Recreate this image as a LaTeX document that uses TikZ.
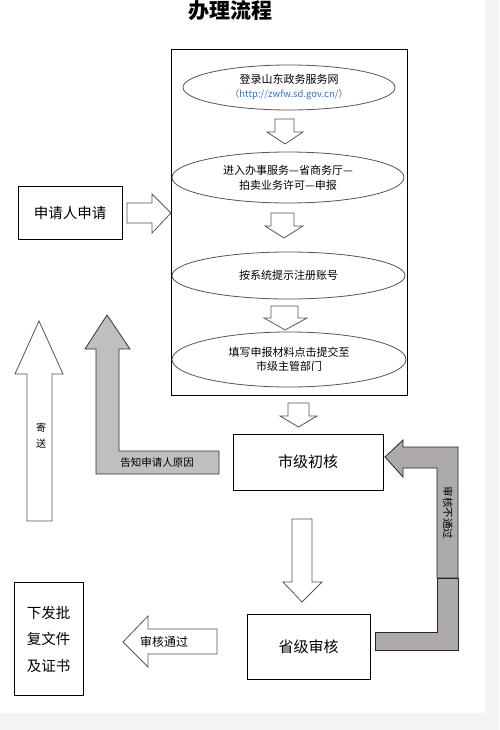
\documentclass[tikz,border=0pt]{standalone}
\usepackage{fontspec}
\setmainfont{Noto Sans CJK SC}
\usetikzlibrary{shapes.geometric}
\definecolor{bggray}{HTML}{F2F3F5}
\definecolor{grayA}{HTML}{BFBFBF}
\definecolor{grayB}{HTML}{AEAAAA}
\definecolor{linegray}{HTML}{555555}
\definecolor{urlblue}{HTML}{3A6FC4}
\newcommand{\fs}[1]{\fontsize{#1}{#1}\selectfont}
\tikzset{
  boxnode/.style={draw=black, line width=0.8pt, inner sep=0pt, fill=white},
  ellnode/.style={ellipse, draw=linegray, line width=0.8pt, inner sep=0pt, fill=white, align=center, font=\fs{11}},
  whitearrow/.style={draw=linegray, line width=0.8pt, fill=white, line join=miter},
  grayarrowA/.style={draw=black!80, line width=0.8pt, fill=grayA},
  grayarrowB/.style={draw=black!85, line width=0.8pt, fill=grayB},
}
\begin{document}
\begin{tikzpicture}[x=1pt,y=-1pt]
\useasboundingbox (0,0) rectangle (499,730);
\fill[bggray] (0,0) rectangle (499,730);
\fill[white] (0,0) rectangle (485,713);

% title
\node[font=\bfseries\fs{21}] (title) at (230,11) {办理流程};

% big frame
\node[boxnode, fill=none, minimum width=236pt, minimum height=346pt] (frame) at (289,222) {};

% ellipses
\node[ellnode, minimum width=212pt, minimum height=45pt] (e1) at (289,87.5)
  {登录山东政务服务网\\[3pt]{\fs{9.5}\color{urlblue}（http://zwfw.sd.gov.cn/）}};
\node[ellnode, minimum width=232pt, minimum height=51pt] (e2) at (288,177.5)
  {进入办事服务—省商务厅—\\[4pt]拍卖业务许可—申报};
\node[ellnode, minimum width=233pt, minimum height=47pt] (e3) at (288.5,275.5)
  {按系统提示注册账号};
\node[ellnode, minimum width=234pt, minimum height=55pt] (e4) at (289,359.5)
  {填写申报材料点击提交至\\[3pt]市级主管部门};

% boxes
\node[boxnode, minimum width=104pt, minimum height=53pt, font=\fs{14.5}] (apply) at (70,212.5) {申请人申请};
\node[boxnode, minimum width=150pt, minimum height=56pt, font=\fs{15}] (city) at (308,462) {市级初核};
\node[boxnode, minimum width=123pt, minimum height=65pt, font=\fs{15}] (prov) at (308.5,646.5) {省级审核};
\node[boxnode, minimum width=69pt, minimum height=113pt, font=\fs{14.5}, align=center] (issue) at (48.5,639)
  {下发批\\[12pt]复文件\\[12pt]及证书};

% small down arrows inside frame
\draw[whitearrow] (275,119)--(294,119)--(294,132)--(303,132)--(285,144)--(267,132)--(275,132)--cycle;
\draw[whitearrow] (271,213)--(294,213)--(294,226)--(303,226)--(284,238)--(265,226)--(271,226)--cycle;
\draw[whitearrow] (271,306)--(298,306)--(298,318)--(307,318)--(285,330)--(264,318)--(271,318)--cycle;

% apply -> frame
\draw[whitearrow] (127,203)--(152,203)--(152,194)--(171,213)--(152,233)--(152,223)--(127,223)--cycle;

% frame -> city
\draw[whitearrow] (288,403)--(309,403)--(309,416)--(317,416)--(298.5,427)--(280,416)--(288,416)--cycle;

% city -> prov
\draw[whitearrow] (292,519)--(312,519)--(312,582)--(322,582)--(302,602)--(283,582)--(292,582)--cycle;

% prov -> issue (审核通过)
\draw[whitearrow] (217,629)--(217,654)--(148,654)--(148,667)--(123,642)--(148,616)--(148,629)--cycle;
\node[font=\fs{12}] (passlbl) at (164,642) {审核通过};

% 寄送 up arrow
\draw[whitearrow] (39,321)--(63,374)--(52,374)--(52,521)--(27,521)--(27,374)--(15,374)--cycle;
\node[font=\fs{10}, align=center] (sendlbl) at (41,435.5) {寄\\[6pt]送};

% gray bent arrow (告知申请人原因)
\draw[grayarrowA] (107,315)--(130,349)--(119,349)--(119,451)--(219,451)--(219,474)--(96,474)--(96,349)--(85,349)--cycle;
\node[font=\fs{10.5}] (informlbl) at (157,463) {告知申请人原因};

% gray bent arrow (审核不通过)
\draw[grayarrowB] (385,457)--(403,440)--(403,447)--(458,447)--(458,578)--(437,578)--(437,468)--(403,468)--(403,477)--cycle;
\draw[grayarrowB] (437,578)--(458,578)--(458,650)--(375,650)--(375,632)--(437,632)--cycle;
\node[font=\fs{10.5}, rotate=-90] (faillbl) at (448,513) {审核不通过};
\end{tikzpicture}
\end{document}
